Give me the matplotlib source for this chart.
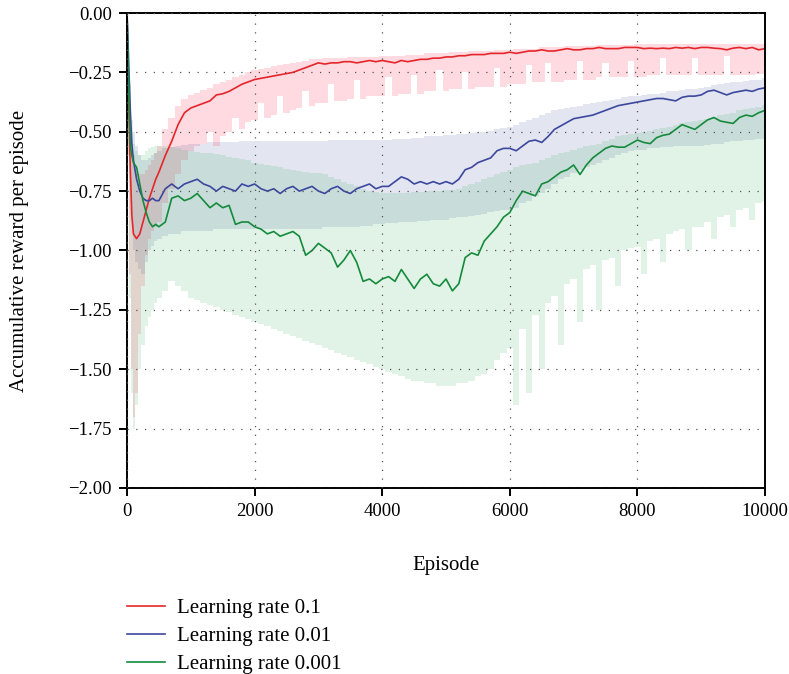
import matplotlib
matplotlib.use("Agg")
import matplotlib.pyplot as plt
from matplotlib.ticker import FuncFormatter

plt.rcParams['font.family'] = ['Liberation Serif', 'DejaVu Serif']

# episode grid (dense at start, then every 100 episodes)
episodes = [0, 25, 50, 75, 100, 150, 200, 250, 300, 350, 400, 450] + list(range(500, 10001, 100))

# --- learning rate 0.1 ---
lr1_mean = [0, -0.35, -0.65, -0.85, -0.93, -0.95, -0.93, -0.88, -0.83, -0.78, -0.74, -0.70,
            -0.67, -0.60, -0.54, -0.47, -0.42,
            -0.40, -0.39, -0.38, -0.37, -0.345, -0.34, -0.33, -0.315, -0.30, -0.29,
            -0.28, -0.275, -0.27, -0.265, -0.26, -0.255, -0.25, -0.24, -0.23, -0.22,
            -0.21, -0.215, -0.21, -0.21, -0.205, -0.205, -0.21, -0.205, -0.20, -0.205,
            -0.20, -0.205, -0.21, -0.20, -0.205, -0.20, -0.195, -0.195, -0.19, -0.19,
            -0.185, -0.185, -0.18, -0.18, -0.175, -0.175, -0.175, -0.17, -0.17, -0.17,
            -0.165, -0.17, -0.165, -0.16, -0.16, -0.155, -0.16, -0.16, -0.155, -0.15,
            -0.155, -0.155, -0.15, -0.15, -0.145, -0.15, -0.15, -0.15, -0.145, -0.145,
            -0.145, -0.15, -0.148, -0.15, -0.148, -0.15, -0.145, -0.148, -0.145, -0.15,
            -0.145, -0.145, -0.148, -0.15, -0.155, -0.148, -0.145, -0.15, -0.145, -0.155,
            -0.15]
lr1_upper = [0, -0.2, -0.4, -0.55, -0.6, -0.66, -0.68, -0.68, -0.66, -0.64, -0.62, -0.59,
             -0.56, -0.49, -0.44, -0.39, -0.36,
             -0.345, -0.335, -0.325, -0.315, -0.30, -0.29, -0.28, -0.27, -0.26, -0.25,
             -0.24, -0.235, -0.23, -0.225, -0.22, -0.215, -0.21, -0.205, -0.20, -0.195,
             -0.195, -0.19, -0.19, -0.19, -0.19, -0.185, -0.185, -0.185, -0.185, -0.185,
             -0.18, -0.18, -0.18, -0.18, -0.175, -0.175, -0.175, -0.17, -0.17, -0.17,
             -0.17, -0.165, -0.165, -0.165, -0.16, -0.16, -0.16, -0.16, -0.155, -0.155,
             -0.155, -0.15, -0.15, -0.15, -0.15, -0.145, -0.145, -0.145, -0.145, -0.14,
             -0.14, -0.14, -0.14, -0.14, -0.135, -0.135, -0.135, -0.135, -0.135, -0.135,
             -0.13, -0.13, -0.13, -0.13, -0.13, -0.13, -0.13, -0.13, -0.13, -0.13,
             -0.13, -0.13, -0.13, -0.13, -0.13, -0.13, -0.13, -0.13, -0.13, -0.13,
             -0.13]
lr1_lower = [0, -0.6, -1.1, -1.5, -1.7, -1.6, -1.35, -1.15, -1.02, -0.95, -0.92, -0.9,
             -0.88, -0.80, -0.74, -0.68, -0.62,
             -0.58, -0.56, -0.55, -0.50, -0.56, -0.52, -0.50, -0.44, -0.49, -0.46,
             -0.45, -0.38, -0.44, -0.43, -0.35, -0.42, -0.41, -0.40, -0.33, -0.39,
             -0.38, -0.38, -0.30, -0.37, -0.37, -0.36, -0.28, -0.36, -0.35, -0.35,
             -0.35, -0.27, -0.35, -0.34, -0.34, -0.26, -0.34, -0.33, -0.33, -0.24,
             -0.33, -0.32, -0.32, -0.25, -0.32, -0.31, -0.31, -0.31, -0.23, -0.31,
             -0.30, -0.30, -0.30, -0.22, -0.29, -0.29, -0.21, -0.29, -0.29, -0.28,
             -0.28, -0.20, -0.28, -0.28, -0.27, -0.21, -0.27, -0.27, -0.27, -0.20,
             -0.27, -0.27, -0.26, -0.26, -0.19, -0.26, -0.26, -0.26, -0.26, -0.19,
             -0.26, -0.26, -0.26, -0.26, -0.18, -0.26, -0.26, -0.26, -0.26, -0.255,
             -0.255]

# --- learning rate 0.01 ---
lr2_mean = [0, -0.2, -0.4, -0.55, -0.62, -0.70, -0.75, -0.78, -0.79, -0.79, -0.78, -0.79,
            -0.79, -0.74, -0.72, -0.74, -0.72,
            -0.71, -0.70, -0.72, -0.73, -0.75, -0.73, -0.74, -0.75, -0.72, -0.73,
            -0.72, -0.74, -0.75, -0.74, -0.76, -0.74, -0.73, -0.75, -0.74, -0.73,
            -0.75, -0.76, -0.74, -0.73, -0.75, -0.76, -0.74, -0.73, -0.72, -0.74,
            -0.73, -0.73, -0.71, -0.69, -0.70, -0.72, -0.71, -0.72, -0.71, -0.72,
            -0.71, -0.72, -0.70, -0.66, -0.65, -0.63, -0.62, -0.61, -0.58, -0.57,
            -0.57, -0.58, -0.56, -0.54, -0.535, -0.545, -0.52, -0.49, -0.475, -0.46,
            -0.445, -0.44, -0.435, -0.43, -0.42, -0.41, -0.40, -0.39, -0.385, -0.38,
            -0.375, -0.37, -0.365, -0.36, -0.36, -0.365, -0.37, -0.355, -0.35, -0.35,
            -0.345, -0.33, -0.325, -0.335, -0.345, -0.335, -0.33, -0.325, -0.33, -0.32,
            -0.315]
lr2_upper = [0, -0.15, -0.3, -0.45, -0.5, -0.56, -0.6, -0.62, -0.62, -0.61, -0.6, -0.59,
             -0.58, -0.57, -0.565, -0.56, -0.555,
             -0.55, -0.55, -0.55, -0.545, -0.545, -0.545, -0.545, -0.545, -0.54, -0.54,
             -0.54, -0.54, -0.54, -0.54, -0.54, -0.54, -0.54, -0.54, -0.54, -0.54,
             -0.54, -0.54, -0.535, -0.535, -0.535, -0.535, -0.535, -0.535, -0.535, -0.535,
             -0.535, -0.535, -0.53, -0.53, -0.53, -0.525, -0.525, -0.52, -0.52, -0.52,
             -0.515, -0.515, -0.51, -0.51, -0.505, -0.5, -0.5, -0.495, -0.49, -0.485,
             -0.48, -0.47, -0.46, -0.45, -0.44, -0.43, -0.42, -0.41, -0.405, -0.4,
             -0.395, -0.39, -0.385, -0.38, -0.375, -0.37, -0.365, -0.36, -0.355, -0.35,
             -0.35, -0.345, -0.34, -0.34, -0.335, -0.33, -0.33, -0.325, -0.32, -0.32,
             -0.317, -0.31, -0.305, -0.3, -0.295, -0.29, -0.29, -0.285, -0.28, -0.28,
             -0.275]
lr2_lower = [0, -0.3, -0.6, -0.85, -1.0, -1.05, -1.08, -1.1, -1.05, -1.0, -0.98, -0.96,
             -0.95, -0.94, -0.93, -0.93, -0.92,
             -0.92, -0.92, -0.92, -0.92, -0.91, -0.91, -0.91, -0.91, -0.91, -0.91,
             -0.91, -0.91, -0.91, -0.91, -0.91, -0.91, -0.91, -0.91, -0.91, -0.91,
             -0.91, -0.9, -0.9, -0.9, -0.9, -0.9, -0.9, -0.895, -0.895, -0.89,
             -0.89, -0.885, -0.885, -0.88, -0.88, -0.88, -0.875, -0.875, -0.87, -0.87,
             -0.87, -0.865, -0.86, -0.86, -0.855, -0.85, -0.845, -0.84, -0.835, -0.83,
             -0.83, -0.82, -0.8, -0.79, -0.77, -0.76, -0.74, -0.72, -0.7, -0.69,
             -0.675, -0.66, -0.65, -0.64, -0.63, -0.62, -0.61, -0.6, -0.59, -0.58,
             -0.577, -0.575, -0.57, -0.57, -0.565, -0.565, -0.56, -0.56, -0.56, -0.56,
             -0.56, -0.555, -0.55, -0.55, -0.545, -0.54, -0.54, -0.535, -0.535, -0.53,
             -0.53]

# --- learning rate 0.001 ---
lr3_mean = [0, -0.3, -0.55, -0.6, -0.63, -0.65, -0.72, -0.79, -0.84, -0.88, -0.90, -0.89,
            -0.90, -0.88, -0.78, -0.77, -0.79,
            -0.78, -0.76, -0.79, -0.82, -0.80, -0.82, -0.81, -0.89, -0.88, -0.88,
            -0.90, -0.91, -0.93, -0.92, -0.94, -0.93, -0.92, -0.94, -1.02, -1.00,
            -0.97, -0.99, -1.01, -1.07, -1.04, -1.00, -1.05, -1.13, -1.12, -1.14,
            -1.12, -1.11, -1.13, -1.08, -1.12, -1.16, -1.12, -1.10, -1.14, -1.15,
            -1.12, -1.17, -1.14, -1.03, -1.01, -1.02, -0.96, -0.93, -0.90, -0.86,
            -0.84, -0.79, -0.75, -0.76, -0.77, -0.72, -0.71, -0.69, -0.67, -0.66,
            -0.64, -0.68, -0.64, -0.61, -0.59, -0.57, -0.56, -0.565, -0.565, -0.55,
            -0.535, -0.545, -0.55, -0.525, -0.515, -0.51, -0.49, -0.47, -0.48, -0.49,
            -0.47, -0.45, -0.44, -0.455, -0.46, -0.465, -0.44, -0.43, -0.435, -0.42,
            -0.41]
lr3_upper = [0, -0.2, -0.4, -0.5, -0.55, -0.58, -0.6, -0.6, -0.58, -0.57, -0.565, -0.56,
             -0.56, -0.56, -0.565, -0.57, -0.575,
             -0.58, -0.585, -0.59, -0.59, -0.595, -0.6, -0.605, -0.61, -0.615, -0.62,
             -0.63, -0.635, -0.64, -0.645, -0.65, -0.655, -0.66, -0.665, -0.67, -0.672,
             -0.675, -0.68, -0.69, -0.7, -0.71, -0.72, -0.73, -0.74, -0.75, -0.755,
             -0.76, -0.76, -0.76, -0.76, -0.76, -0.755, -0.755, -0.75, -0.75, -0.75,
             -0.745, -0.745, -0.74, -0.73, -0.72, -0.71, -0.7, -0.69, -0.68, -0.67,
             -0.66, -0.65, -0.64, -0.635, -0.63, -0.62, -0.61, -0.6, -0.59, -0.585,
             -0.577, -0.57, -0.56, -0.555, -0.55, -0.54, -0.53, -0.52, -0.515, -0.51,
             -0.505, -0.5, -0.495, -0.49, -0.485, -0.48, -0.47, -0.465, -0.46, -0.455,
             -0.45, -0.445, -0.44, -0.43, -0.425, -0.42, -0.41, -0.405, -0.4, -0.395,
             -0.387]
lr3_lower = [0, -0.6, -1.2, -1.6, -1.75, -1.65, -1.5, -1.4, -1.32, -1.28, -1.25, -1.22,
             -1.2, -1.17, -1.13, -1.15, -1.17,
             -1.2, -1.21, -1.22, -1.23, -1.24, -1.25, -1.26, -1.27, -1.28, -1.29,
             -1.3, -1.31, -1.32, -1.33, -1.34, -1.35, -1.36, -1.37, -1.38, -1.39,
             -1.40, -1.41, -1.42, -1.43, -1.44, -1.45, -1.46, -1.47, -1.48, -1.49,
             -1.50, -1.51, -1.52, -1.53, -1.54, -1.55, -1.55, -1.56, -1.56, -1.57,
             -1.57, -1.57, -1.56, -1.56, -1.55, -1.53, -1.52, -1.5, -1.46, -1.43,
             -1.41, -1.65, -1.33, -1.6, -1.27, -1.5, -1.22, -1.19, -1.4, -1.14,
             -1.12, -1.3, -1.08, -1.06, -1.25, -1.04, -1.03, -1.15, -1.0, -0.99,
             -0.985, -1.1, -0.96, -0.95, -1.05, -0.93, -0.92, -0.91, -1.0, -0.9,
             -0.9, -0.88, -0.95, -0.86, -0.85, -0.9, -0.83, -0.82, -0.87, -0.8,
             -0.79]

series = [
    ("Learning rate 0.1", lr1_mean, lr1_lower, lr1_upper, "#e4262b", "#ff6f86", 0.25),
    ("Learning rate 0.01", lr2_mean, lr2_lower, lr2_upper, "#3c479e", "#3c479e", 0.14),
    ("Learning rate 0.001", lr3_mean, lr3_lower, lr3_upper, "#158a3c", "#2fb35a", 0.15),
]

fig = plt.figure(figsize=(7.89, 6.74), dpi=100)
ax = fig.add_axes([0.161, 0.276, 0.8086, 0.7047])

# shaded bands first, lines on top
for name, mean, lo, hi, lc, fc, alpha in series:
    ax.fill_between(episodes, lo, hi, step='mid', color=fc, alpha=alpha, linewidth=0)
for name, mean, lo, hi, lc, fc, alpha in series:
    ax.plot(episodes, mean, color=lc, linewidth=1.2, label=name)

ax.set_xlim(0, 10000)
ax.set_ylim(-2.0, 0.0)
ax.set_xticks(range(0, 10001, 2000))
ax.set_yticks([-2.0, -1.75, -1.5, -1.25, -1.0, -0.75, -0.5, -0.25, 0.0])
ax.yaxis.set_major_formatter(FuncFormatter(lambda v, p: f"{v:.2f}".replace('-', '\u2212')))
ax.grid(True, color='#555555', linestyle=(0, (1, 6)), linewidth=0.9)
ax.set_axisbelow(False)

for sp in ax.spines.values():
    sp.set_linewidth(1.4)
    sp.set_color('black')
ax.tick_params(direction='out', length=6, width=1.4, labelsize=13.5, pad=5)

ax.set_xlabel('Episode', fontsize=15)
ax.xaxis.set_label_coords(0.5, -0.143)
ax.set_ylabel('Accumulative reward per episode', fontsize=15)
ax.yaxis.set_label_coords(-0.168, 0.5)
ax.yaxis.label.set_verticalalignment('center')

fig.legend(loc='upper left', bbox_to_anchor=(0.161, 0.112), frameon=False,
           fontsize=15, handlelength=1.8, handletextpad=0.58, labelspacing=0.4,
           borderaxespad=0, borderpad=0)

fig.savefig('out.png', dpi=100)
